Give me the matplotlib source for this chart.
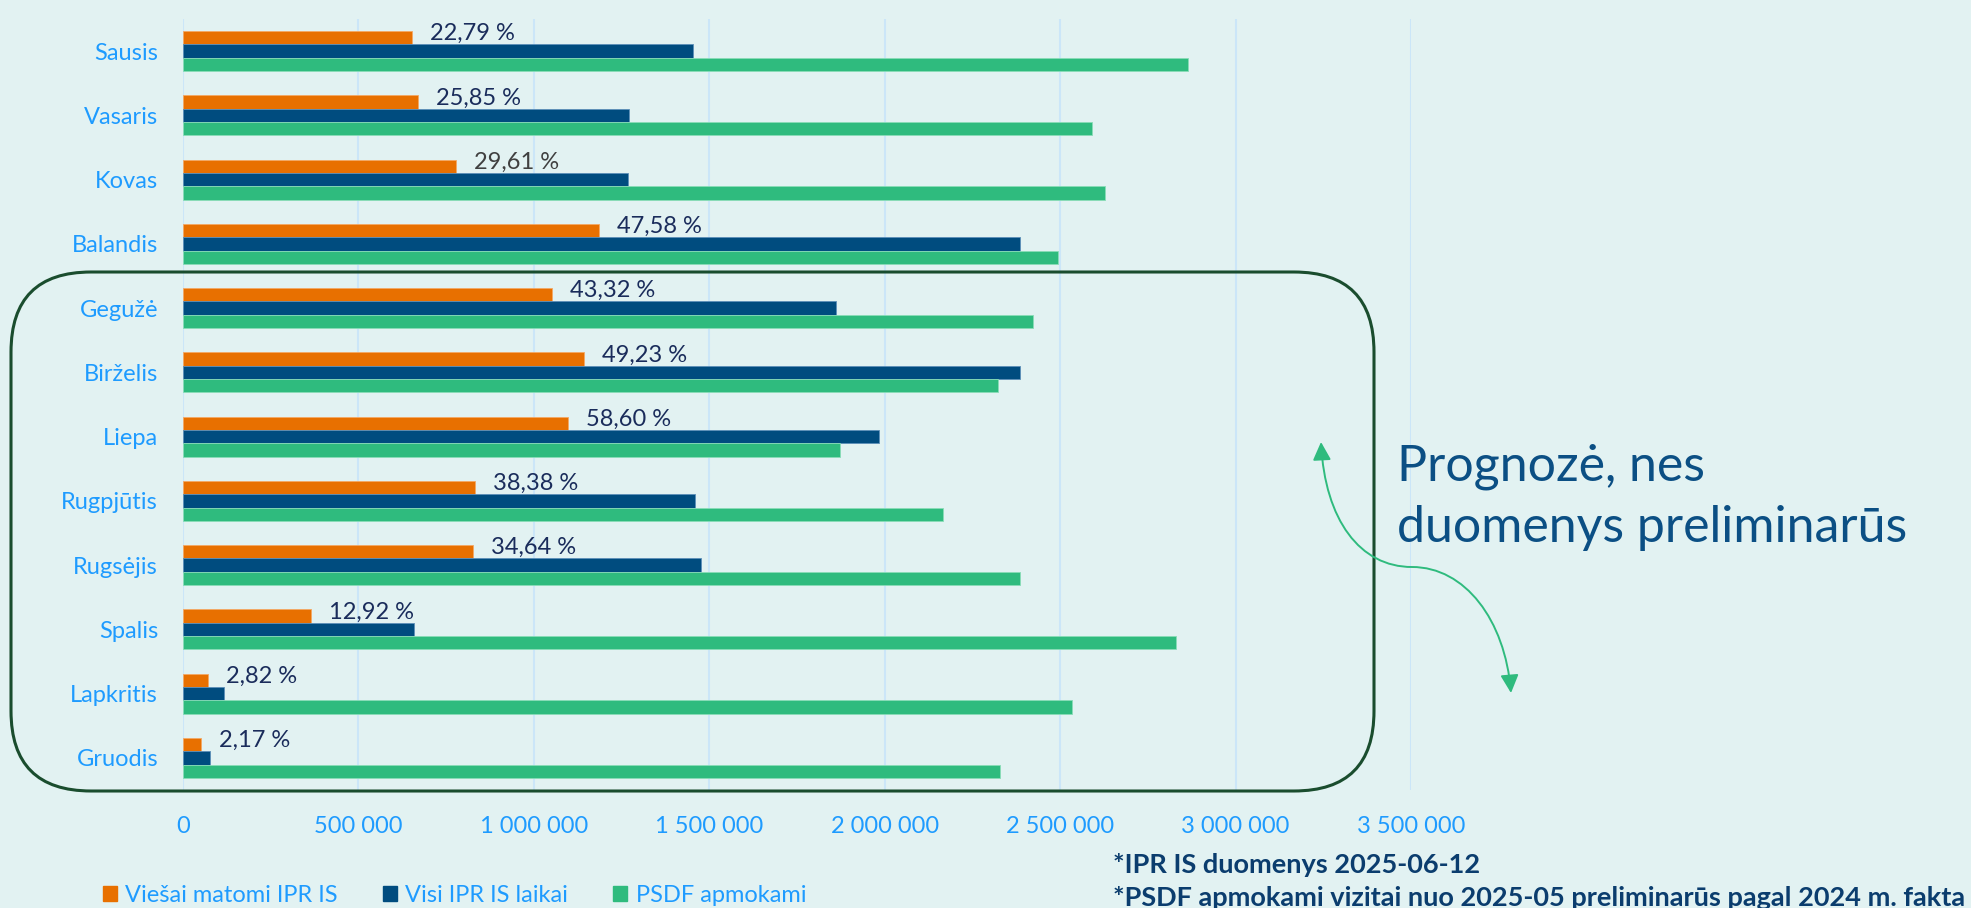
import matplotlib
matplotlib.use('Agg')
import matplotlib.pyplot as plt
import numpy as np
from matplotlib.patches import FancyBboxPatch, FancyArrowPatch, Patch
from matplotlib.path import Path

# data
months = ['Sausis', 'Vasaris', 'Kovas', 'Balandis', 'Gegužė', 'Birželis',
          'Liepa', 'Rugpjūtis', 'Rugsėjis', 'Spalis', 'Lapkritis', 'Gruodis']
viesai = [652000, 670000, 779000, 1185000, 1051000, 1142000,
          1098000, 831000, 827000, 365000, 71000, 50000]
visi = [1455000, 1271000, 1267000, 2385000, 1860000, 2387000,
        1984000, 1459000, 1476000, 659000, 117000, 76000]
psdf = [2863000, 2590000, 2627000, 2493000, 2422000, 2322000,
        1872000, 2165000, 2386000, 2829000, 2533000, 2328000]
pct_labels = ['22,79 %', '25,85 %', '29,61 %', '47,58 %', '43,32 %', '49,23 %',
              '58,60 %', '38,38 %', '34,64 %', '12,92 %', '2,82 %', '2,17 %']
xticks = [0, 500000, 1000000, 1500000, 2000000, 2500000, 3000000, 3500000]
xtick_labels = ['0', '500 000', '1 000 000', '1 500 000', '2 000 000',
                '2 500 000', '3 000 000', '3 500 000']
series_names = ['Viešai matomi IPR IS', 'Visi IPR IS laikai', 'PSDF apmokami']

# styles
plt.rcParams['font.family'] = ['Lato', 'DejaVu Sans']
bg = '#E2F2F2'
c_orange = '#E87000'
c_navy = '#004C7F'
c_green = '#2FBB7E'
c_tick = '#1E9BFF'
c_lab = '#1A2C5B'
label_colors = [c_lab, c_lab, '#404040'] + [c_lab] * 9
fs = 17

W, H = 1971, 908
fig = plt.figure(figsize=(W / 100, H / 100), dpi=100, facecolor=bg)

# main bar axes (pixel box: x 183..1411, y 19..790)
ax = fig.add_axes([183 / W, 1 - 790 / H, (1411 - 183) / W, (790 - 19) / H])
ax.set_facecolor('none')

y = np.arange(len(months))
h = 0.207
ax.barh(y - h, viesai, height=h, color=c_orange, edgecolor='#F4A864', lw=0.6, label=series_names[0])
ax.barh(y, visi, height=h, color=c_navy, edgecolor='#5C8FB8', lw=0.6, label=series_names[1])
ax.barh(y + h, psdf, height=h, color=c_green, edgecolor='#8ADDB8', lw=0.6, label=series_names[2])

for i, lbl in enumerate(pct_labels):
    ax.annotate(lbl, xy=(viesai[i], y[i] - h), xytext=(13, 3), textcoords='offset points',
                va='center', ha='left', fontsize=fs, color=label_colors[i])

ax.set_xlim(0, 3500000)
ax.set_ylim(len(months) - 0.5, -0.5)
ax.set_xticks(xticks)
ax.set_xticklabels(xtick_labels)
ax.set_yticks(y)
ax.set_yticklabels(months)
ax.tick_params(axis='x', length=0, pad=19, labelsize=fs, labelcolor=c_tick)
ax.tick_params(axis='y', length=0, pad=18, labelsize=fs, labelcolor=c_tick)
ax.set_axisbelow(True)
ax.grid(axis='x', color='#CBE6F8', lw=1.5)
ax.grid(axis='y', visible=False)
for s in ax.spines.values():
    s.set_visible(False)

# overlay in pixel coordinates for the annotations
ov = fig.add_axes([0, 0, 1, 1])
ov.set_xlim(0, W)
ov.set_ylim(H, 0)
ov.axis('off')
ov.set_facecolor('none')

box = FancyBboxPatch((11, 272), 1374 - 11, 791 - 272,
                     boxstyle='round,pad=0,rounding_size=80',
                     fill=False, ec='#1A4D2E', lw=2.2)
ov.add_patch(box)

verts = [(1321, 442), (1325, 520), (1360, 567), (1412, 567),
         (1465, 567), (1505, 620), (1511, 693)]
codes = [Path.MOVETO] + [Path.CURVE4] * 6
arrow = FancyArrowPatch(path=Path(verts, codes),
                        arrowstyle='<|-|>,head_length=1.1,head_width=0.55',
                        mutation_scale=10, color=c_green, lw=1.4)
ov.add_patch(arrow)

ov.text(1397, 480, 'Prognozė, nes', fontsize=36, color='#0B4F84', va='baseline', ha='left')
ov.text(1397, 542, 'duomenys preliminarūs', fontsize=36, color='#0B4F84', va='baseline', ha='left')

ov.text(1113, 865, '*IPR IS duomenys 2025-06-12', fontsize=19.5, fontweight='bold',
        color='#0B3D6E', va='center', ha='left')
ov.text(1113, 898, '*PSDF apmokami vizitai nuo 2025-05 preliminarūs pagal 2024 m. fakta',
        fontsize=19.5, fontweight='bold', color='#0B3D6E', va='center', ha='left')

handles = [Patch(color=c_orange), Patch(color=c_navy), Patch(color=c_green)]
fig.legend(handles, series_names, loc='center left', bbox_to_anchor=(103 / W, 1 - 895 / H),
           ncol=3, frameon=False, fontsize=fs, labelcolor=c_tick,
           handlelength=0.6, handleheight=0.6, handletextpad=0.35,
           columnspacing=1.9, borderpad=0, borderaxespad=0)

fig.savefig('out.png', dpi=100, facecolor=bg)
